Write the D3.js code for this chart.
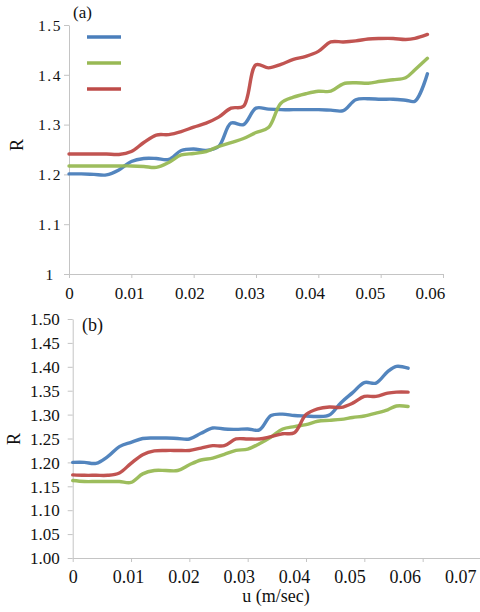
<!DOCTYPE html>
<html>
<head>
<meta charset="utf-8">
<script src="https://cdn.jsdelivr.net/npm/d3@7"></script>
<style>
  html, body { margin: 0; padding: 0; background: #fff; }
  svg { display: block; }
</style>
</head>
<body>
<svg width="480" height="612"></svg>
<script>
// ---- data ----
const uGrid = [0, 0.002, 0.004, 0.006, 0.008, 0.010, 0.012, 0.014, 0.016, 0.018,
  0.020, 0.022, 0.024, 0.026, 0.028, 0.030, 0.032, 0.034, 0.036, 0.038,
  0.040, 0.042, 0.044, 0.046, 0.048, 0.050, 0.052, 0.054, 0.0555, 0.0575];

// panel (a)
const blueA = [1.201, 1.201, 1.200, 1.199, 1.209, 1.226, 1.232, 1.232, 1.230, 1.248,
  1.251, 1.248, 1.256, 1.303, 1.300, 1.333, 1.331, 1.330, 1.330, 1.330,
  1.330, 1.329, 1.328, 1.350, 1.352, 1.351, 1.351, 1.349, 1.347, 1.402];
const greenA = [1.217, 1.217, 1.217, 1.217, 1.217, 1.217, 1.216, 1.214, 1.224, 1.239,
  1.242, 1.246, 1.256, 1.264, 1.272, 1.284, 1.294, 1.343, 1.355, 1.362,
  1.367, 1.367, 1.382, 1.384, 1.383, 1.387, 1.390, 1.394, 1.410, 1.433];
const redA = [1.241, 1.241, 1.241, 1.241, 1.240, 1.246, 1.264, 1.279, 1.280, 1.286,
  1.295, 1.303, 1.315, 1.333, 1.337, 1.420, 1.414, 1.421, 1.431, 1.437,
  1.447, 1.466, 1.466, 1.468, 1.472, 1.473, 1.473, 1.471, 1.473, 1.481];

// panel (b)
const blueB = [1.200, 1.200, 1.198, 1.212, 1.233, 1.242, 1.250, 1.251, 1.251, 1.250,
  1.249, 1.261, 1.272, 1.270, 1.269, 1.270, 1.268, 1.298, 1.301, 1.298,
  1.297, 1.296, 1.299, 1.325, 1.346, 1.367, 1.366, 1.390, 1.401, 1.397];
const greenB = [1.162, 1.160, 1.160, 1.160, 1.160, 1.158, 1.176, 1.183, 1.183, 1.183,
  1.195, 1.205, 1.209, 1.217, 1.225, 1.228, 1.239, 1.253, 1.270, 1.275,
  1.279, 1.286, 1.288, 1.290, 1.294, 1.297, 1.303, 1.310, 1.318, 1.317];
const redB = [1.174, 1.173, 1.173, 1.173, 1.178, 1.198, 1.216, 1.224, 1.225, 1.225,
  1.225, 1.230, 1.235, 1.235, 1.249, 1.249, 1.249, 1.254, 1.260, 1.262,
  1.300, 1.312, 1.316, 1.315, 1.324, 1.338, 1.338, 1.345, 1.347, 1.347];

const xTicksA = [0, 0.01, 0.02, 0.03, 0.04, 0.05, 0.06];
const xLabelsA = ['0', '0.01', '0.02', '0.03', '0.04', '0.05', '0.06'];
const yTicksA = [1, 1.1, 1.2, 1.3, 1.4, 1.5];
const yLabelsA = ['1', '1.1', '1.2', '1.3', '1.4', '1.5'];

const xTicksB = [0, 0.01, 0.02, 0.03, 0.04, 0.05, 0.06, 0.07];
const xLabelsB = ['0', '0.01', '0.02', '0.03', '0.04', '0.05', '0.06', '0.07'];
const yTicksB = [1.00, 1.05, 1.10, 1.15, 1.20, 1.25, 1.30, 1.35, 1.40, 1.45, 1.50];

const colors = ['#4a7ebb', '#98b954', '#be4b48'];
const axisColor = '#c4c4c4';
const serif = 'Liberation Serif';

const svg = d3.select('svg');

// series -> points
const toPoints = (vals) => vals.map((v, i) => [uGrid[i], v]);

function drawPanel(opt) {
  const { x, y, series, xTicks, xLabels, yTicks, yFormat, labelShrink } = opt;
  const g = svg.append('g');

  // x axis
  const xAxis = g.append('g')
    .attr('transform', `translate(0,${y.range()[0]})`)
    .call(d3.axisBottom(x).tickValues(xTicks).tickFormat((d, i) => xLabels[i])
      .tickSize(4).tickSizeOuter(0));
  xAxis.selectAll('text')
    .attr('y', opt.xLabelY)
    .attr('dy', null)
    .attr('x', (d) => -(x(d) - x.range()[0]) * labelShrink)
    .style('font-size', opt.xFont + 'px');

  // y axis
  const yAxis = g.append('g')
    .attr('transform', `translate(${x.range()[0]},0)`)
    .call(d3.axisLeft(y).tickValues(yTicks).tickFormat(yFormat)
      .tickSize(5).tickSizeOuter(0));
  yAxis.selectAll('text')
    .attr('x', opt.yLabelX)
    .attr('dy', '0.34em')
    .attr('text-anchor', opt.yAnchor)
    .style('font-size', opt.yFont + 'px')
    .style('letter-spacing', opt.yLetter + 'px');

  g.selectAll('.domain, .tick line').attr('stroke', axisColor);

  const line = d3.line()
    .x((d) => x(d[0]))
    .y((d) => y(d[1]))
    .curve(d3.curveCatmullRom.alpha(0.5));

  g.append('g')
    .selectAll('path')
    .data(series)
    .join('path')
    .attr('d', (d) => line(toPoints(d)))
    .attr('fill', 'none')
    .attr('stroke', (d, i) => colors[i])
    .attr('stroke-width', 3.4)
    .attr('stroke-linejoin', 'round')
    .attr('stroke-linecap', 'round')
    .attr('opacity', 0.95);
  return g;
}

// ---- panel (a) ----
const xA = d3.scaleLinear().domain([0, 0.06]).range([69, 443]);
const yA = d3.scaleLinear().domain([1, 1.5]).range([274, 25]);
drawPanel({
  x: xA, y: yA, series: [blueA, greenA, redA],
  xTicks: xTicksA, xLabels: xLabelsA, yTicks: yTicksA,
  yFormat: (d, i) => yLabelsA[i],
  labelShrink: 0.035, xLabelY: 25, xFont: 17,
  yLabelX: -19, yAnchor: 'middle', yFont: 15.5, yLetter: 1.5
});

// legend lines (text was removed in the original)
svg.append('g')
  .selectAll('line')
  .data(colors)
  .join('line')
  .attr('x1', 87).attr('x2', 121)
  .attr('y1', (d, i) => 37 + i * 26)
  .attr('y2', (d, i) => 37 + i * 26)
  .attr('stroke', (d) => d)
  .attr('stroke-width', 3.4);

svg.append('text').attr('x', 73).attr('y', 18).text('(a)')
  .style('font-size', '17px');
svg.append('text')
  .attr('transform', 'translate(23,145) rotate(-90)')
  .attr('text-anchor', 'middle')
  .style('font-size', '18px')
  .text('R');

// ---- panel (b) ----
const xB = d3.scaleLinear().domain([0, 0.07]).range([72.7, 481]);
const yB = d3.scaleLinear().domain([1, 1.5]).range([558, 319]);
drawPanel({
  x: xB, y: yB, series: [blueB, greenB, redB],
  xTicks: xTicksB, xLabels: xLabelsB, yTicks: yTicksB,
  yFormat: d3.format('.2f'),
  labelShrink: 0.051, xLabelY: 25, xFont: 18,
  yLabelX: -13, yAnchor: 'end', yFont: 17, yLetter: 0
});

svg.append('text').attr('x', 82).attr('y', 331).text('(b)')
  .style('font-size', '18px');
svg.append('text')
  .attr('transform', 'translate(20,439) rotate(-90)')
  .attr('text-anchor', 'middle')
  .style('font-size', '18px')
  .text('R');
svg.append('text')
  .attr('x', 276).attr('y', 602)
  .attr('text-anchor', 'middle')
  .style('font-size', '18px')
  .text('u (m/sec)');

// every label in the serif face, near-black
svg.selectAll('text')
  .style('font-family', serif)
  .style('fill', '#111');
</script>
</body>
</html>
